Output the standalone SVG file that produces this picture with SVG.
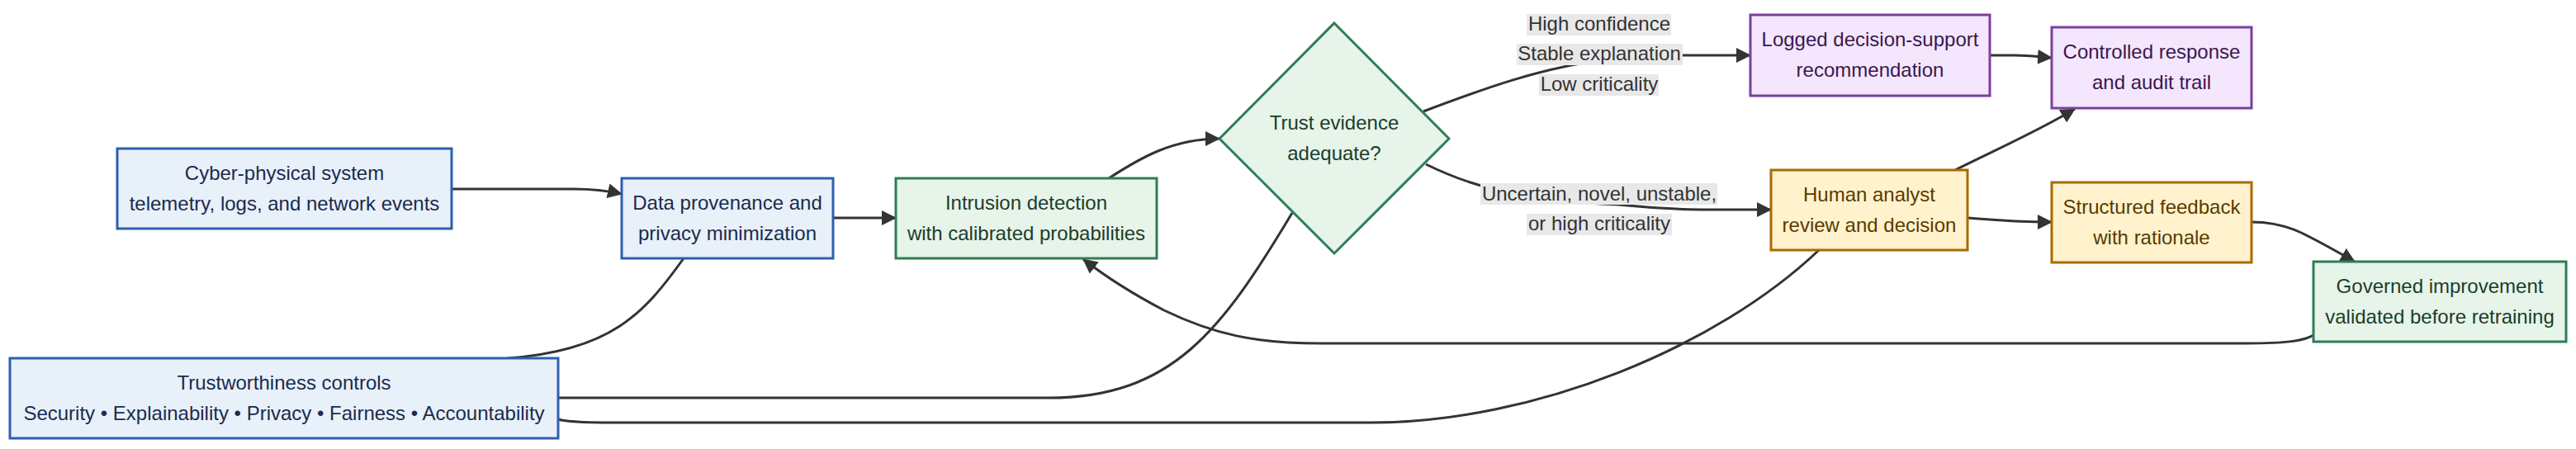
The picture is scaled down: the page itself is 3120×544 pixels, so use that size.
<svg xmlns="http://www.w3.org/2000/svg" width="3120" height="544" viewBox="0 0 3120 544">
<style>
text{font-family:"Liberation Sans",Arial,sans-serif;font-size:24px;text-anchor:middle}
.blue rect{fill:#e8f0fa;stroke:#2f5fae;stroke-width:3}
.blue text{fill:#1a2b4c}
.green rect,.green polygon{fill:#e6f4ea;stroke:#2e7d57;stroke-width:3}
.green text{fill:#1b3d2a}
.purple rect{fill:#f4e6fc;stroke:#7b3f9e;stroke-width:3}
.purple text{fill:#3b1650}
.yellow rect{fill:#fff2cc;stroke:#a86a00;stroke-width:3}
.yellow text{fill:#5a3a00}
.edge{fill:none;stroke:#333;stroke-width:3}
.lbl rect{fill:#e8e8e8}
.lbl text{fill:#333}
</style>
<defs>
<marker id="ah" viewBox="0 0 18 18" refX="17" refY="9" markerWidth="18" markerHeight="18" markerUnits="userSpaceOnUse" orient="auto">
<path d="M0,0 L18,9 L0,18 z" fill="#333"/>
</marker>
</defs>
<g id="connectors">
<path class="edge" d="M547,229 L695,229 C725,229 740,232 753,235" marker-end="url(#ah)"/>
<path class="edge" d="M1009,264 L1085,264" marker-end="url(#ah)"/>
<path class="edge" d="M1343,216 C1380,192 1420,168 1477,168" marker-end="url(#ah)"/>
<path class="edge" d="M1724,135 C1790,110 1870,80 1950,72 Q1990,67 2040,67 L2120,67" marker-end="url(#ah)"/>
<path class="edge" d="M1727,199 C1790,230 1850,243 1960,248 Q2010,253 2060,254 L2145,254" marker-end="url(#ah)"/>
<path class="edge" d="M2410,67 L2440,67 C2460,67 2470,69 2485,70" marker-end="url(#ah)"/>
<path class="edge" d="M2368,206 C2420,180 2470,158 2513,132" marker-end="url(#ah)"/>
<path class="edge" d="M2383,264 C2420,267 2440,269 2485,269" marker-end="url(#ah)"/>
<path class="edge" d="M2727,269 C2770,269 2790,282 2852,317" marker-end="url(#ah)"/>
<path class="edge" d="M2802,406 C2790,413 2770,416 2720,416 L1600,416 C1520,416 1470,405 1410,376 C1370,355 1335,332 1312,314" marker-end="url(#ah)"/>
<path class="edge" d="M828,313 C780,380 740,425 615,434"/>
<path class="edge" d="M676,482 L1270,482 C1420,482 1480,400 1565,258"/>
<path class="edge" d="M676,508 Q690,512 740,512 L1660,512 C1860,512 2080,420 2203,303"/>
</g>
<g id="edge-labels" class="lbl">
<rect x="1849" y="17" width="175" height="26"/>
<rect x="1837" y="53" width="201" height="26"/>
<rect x="1864" y="90" width="145" height="26"/>
<text x="1937" y="37">High confidence</text>
<text x="1937" y="73">Stable explanation</text>
<text x="1937" y="110">Low criticality</text>
<rect x="1793" y="222" width="287" height="26"/>
<rect x="1849" y="259" width="176" height="26"/>
<text x="1937" y="243">Uncertain, novel, unstable,</text>
<text x="1937" y="279">or high criticality</text>
</g>
<g id="cyber" class="blue">
<rect x="142" y="180" width="405" height="97"/>
<text x="344.5" y="218">Cyber-physical system</text>
<text x="344.5" y="255">telemetry, logs, and network events</text>
</g>
<g id="provenance" class="blue">
<rect x="753" y="216" width="256" height="97"/>
<text x="881" y="254">Data provenance and</text>
<text x="881" y="291">privacy minimization</text>
</g>
<g id="trust-controls" class="blue">
<rect x="12" y="434" width="664" height="97"/>
<text x="344" y="472">Trustworthiness controls</text>
<text x="344" y="509">Security • Explainability • Privacy • Fairness • Accountability</text>
</g>
<g id="detection" class="green">
<rect x="1085" y="216" width="316" height="97"/>
<text x="1243" y="254">Intrusion detection</text>
<text x="1243" y="291">with calibrated probabilities</text>
</g>
<g id="decision" class="green">
<polygon points="1616,28 1755,168 1616,307 1477,168"/>
<text x="1616" y="157">Trust evidence</text>
<text x="1616" y="194">adequate?</text>
</g>
<g id="logged" class="purple">
<rect x="2120" y="18" width="290" height="98"/>
<text x="2265" y="56">Logged decision-support</text>
<text x="2265" y="93">recommendation</text>
</g>
<g id="controlled" class="purple">
<rect x="2485" y="33" width="242" height="98"/>
<text x="2606" y="71">Controlled response</text>
<text x="2606" y="108">and audit trail</text>
</g>
<g id="analyst" class="yellow">
<rect x="2145" y="206" width="238" height="97"/>
<text x="2264" y="244">Human analyst</text>
<text x="2264" y="281">review and decision</text>
</g>
<g id="feedback" class="yellow">
<rect x="2485" y="221" width="242" height="97"/>
<text x="2606" y="259">Structured feedback</text>
<text x="2606" y="296">with rationale</text>
</g>
<g id="governed" class="green">
<rect x="2802" y="317" width="306" height="97"/>
<text x="2955" y="355">Governed improvement</text>
<text x="2955" y="392">validated before retraining</text>
</g>
</svg>
